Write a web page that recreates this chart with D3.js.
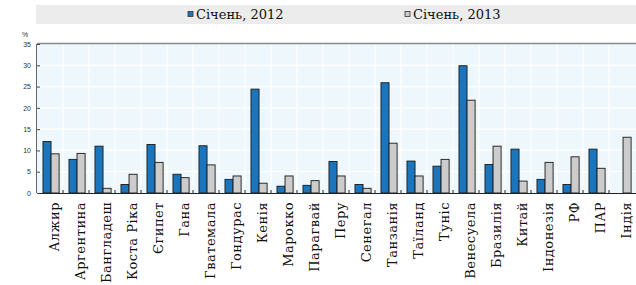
<!DOCTYPE html>
<html><head><meta charset="utf-8">
<script src="https://cdn.jsdelivr.net/npm/d3@7"></script>
<style>body{margin:0;background:#fff;}svg{display:block;}
.serif{font-family:"DejaVu Serif","Liberation Serif",serif;}
.sans{font-family:"Liberation Sans",Arial,sans-serif;}
</style>
</head><body>
<script>
const categories = ["Алжир","Аргентина","Бангладеш","Коста Ріка","Єгипет","Гана","Гватемала","Гондурас","Кенія","Марокко","Парагвай","Перу","Сенегал","Танзанія","Таїланд","Туніс","Венесуела","Бразилія","Китай","Індонезія","РФ","ПАР","Індія"];
const jan2012 = [12.1,7.9,11.0,2.0,11.4,4.4,11.1,3.2,24.4,1.6,1.8,7.4,2.0,25.9,7.5,6.3,29.9,6.7,10.3,3.2,2.0,10.3,null];
const jan2013 = [9.2,9.3,1.1,4.4,7.2,3.6,6.6,4.0,2.3,4.0,2.9,4.0,1.1,11.7,4.0,7.9,21.8,11.0,2.8,7.2,8.5,5.8,13.1];
const seriesNames = ["Січень, 2012","Січень, 2013"];
const yTicks = [0,5,10,15,20,25,30,35];

(function(){
const W = 636, H = 285;
const svg = d3.select("body").append("svg").attr("width", W).attr("height", H);

svg.append("rect").attr("x",36).attr("y",5).attr("width",600).attr("height",19).attr("fill","#ececec");
const colors = {"Січень, 2012":"#1b75bc","Січень, 2013":"#cccccc"};
const legX = [188, 405];
seriesNames.forEach((s,i)=>{
  svg.append("rect").attr("x",legX[i]).attr("y",11.5).attr("width",5).attr("height",5)
    .attr("fill", colors[s]).attr("stroke","#333").attr("stroke-width",0.8);
  svg.append("text").attr("class","serif").attr("x",legX[i]+8).attr("y",19).text(s)
    .attr("font-size",13).attr("fill","#111");
});

const mL = 37, mR = 635, mT = 44, mB = 193;
const x = d3.scaleBand().domain(categories).range([mL, mR]).padding(0);
const x1 = d3.scaleBand().domain(seriesNames).range([x.bandwidth()*0.23, x.bandwidth()*0.85]);
const y = d3.scaleLinear().domain([0,35]).range([mB, mT]);

svg.append("rect").attr("x",mL).attr("y",mT).attr("width",mR-mL+1).attr("height",mB-mT).attr("fill","#eef8fc");
svg.append("g").selectAll("line").data(yTicks.slice(1,-1)).join("line")
  .attr("x1",mL).attr("x2",mR+1).attr("y1",d=>y(d)).attr("y2",d=>y(d)).attr("stroke","#ffffff").attr("stroke-width",1.2);
svg.append("g").selectAll("line").data(categories.slice(1)).join("line")
  .attr("x1",d=>x(d)).attr("x2",d=>x(d)).attr("y1",mT).attr("y2",mB).attr("stroke","#ffffff").attr("stroke-width",1.2);

svg.append("line").attr("x1",mL).attr("x2",W).attr("y1",mT-0.5).attr("y2",mT-0.5).attr("stroke","#8a8a8a").attr("stroke-width",1.5);
svg.append("line").attr("x1",mL-0.5).attr("x2",mL-0.5).attr("y1",mT).attr("y2",mB).attr("stroke","#666").attr("stroke-width",1);

const data = categories.map((c,i)=>({c, vals:[{s:seriesNames[0],v:jan2012[i]},{s:seriesNames[1],v:jan2013[i]}]}));
const g = svg.append("g").selectAll("g").data(data).join("g").attr("transform",d=>`translate(${x(d.c)},0)`);
g.selectAll("rect").data(d=>d.vals.filter(v=>v.v!=null)).join("rect")
  .attr("x",d=>x1(d.s)).attr("width",x1.bandwidth())
  .attr("y",d=>y(d.v)).attr("height",d=>y(0)-y(d.v))
  .attr("fill",d=>colors[d.s]).attr("stroke","#1a1a1a").attr("stroke-width",0.9);

svg.append("line").attr("x1",mL).attr("x2",mR+1).attr("y1",mB+0.5).attr("y2",mB+0.5).attr("stroke","#222").attr("stroke-width",1.2);
svg.append("g").selectAll("line").data(categories.slice(1)).join("line")
  .attr("x1",d=>x(d)).attr("x2",d=>x(d)).attr("y1",mB).attr("y2",mB-3).attr("stroke","#222").attr("stroke-width",1);

const yAxis = d3.axisLeft(y).tickValues(yTicks).tickSize(-3).tickPadding(6);
const ya = svg.append("g").attr("transform",`translate(${mL},0)`).call(yAxis);
ya.select(".domain").remove();
ya.selectAll(".tick line").attr("stroke","#444");
ya.selectAll("text").attr("class","sans").attr("font-family",null).attr("font-size",7).attr("fill","#333");
svg.append("text").attr("class","sans").attr("x",22).attr("y",37).text("%").attr("font-size",7).attr("fill","#333");

svg.append("g").selectAll("text").data(categories).join("text")
  .attr("class","serif")
  .attr("transform",d=>`translate(${x(d)+x.bandwidth()/2+4},202) rotate(-90)`)
  .attr("text-anchor","end").attr("dy","0.35em")
  .attr("font-size",13).attr("letter-spacing",0.5).attr("fill","#111")
  .text(d=>d);
})();
</script>
</body></html>
